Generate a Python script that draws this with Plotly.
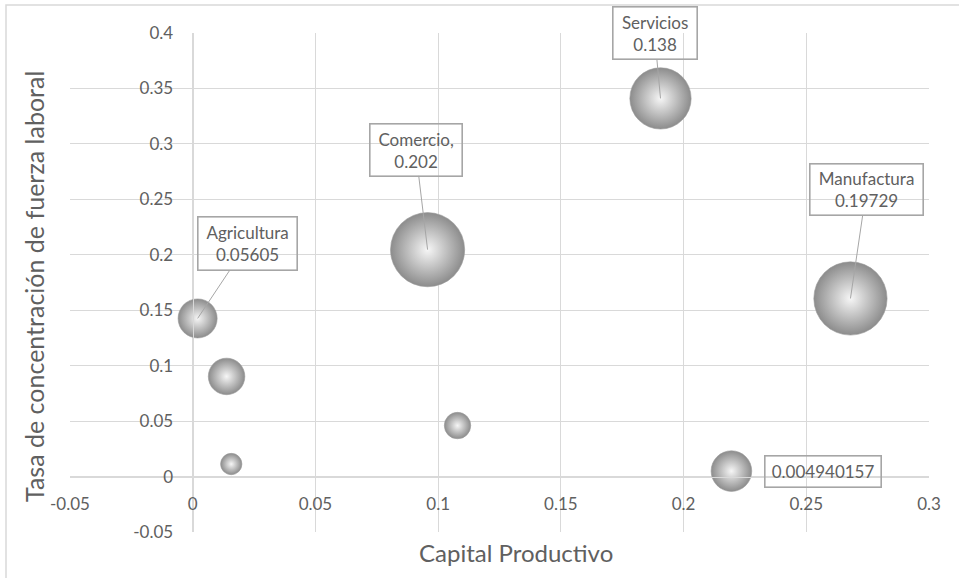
import plotly.graph_objects as go

# Sector bubbles: productive capital (x), labour concentration rate (y), bubble weight (size)
sector = ["Agricultura", "", "", "Comercio", "", "Servicios", "Manufactura", ""]
capital = [0.0020, 0.0138, 0.0157, 0.0957, 0.1079, 0.1906, 0.2680, 0.2195]
tasa = [0.1426, 0.0903, 0.0113, 0.2046, 0.0460, 0.3410, 0.1606, 0.004940157]
peso = [0.05605, 0.0490, 0.0167, 0.202, 0.0256, 0.138, 0.19729, 0.0606]

x_ticks = [-0.05, 0, 0.05, 0.1, 0.15, 0.2, 0.25, 0.3]
x_ticktext = ["-0.05", "0", "0.05", "0.1", "0.15", "0.2", "0.25", "0.3"]
y_ticks = [-0.05, 0, 0.05, 0.1, 0.15, 0.2, 0.25, 0.3, 0.35, 0.4]
y_ticktext = ["-0.05", "0", "0.05", "0.1", "0.15", "0.2", "0.25", "0.3", "0.35", "0.4"]

x_range = [-0.05, 0.3]
y_range = [-0.05, 0.4]

W, H = 959, 578
ML, MR, MT, MB = 70, 30, 33, 46
PW, PH = W - ML - MR, H - MT - MB

TEXT = "#606060"
GRID = "#d9d9d9"
BOX = "#a6a6a6"
FONT = "Lato, Carlito, Calibri, sans-serif"


def px_x(p):
    return (p - ML) / PW


def px_y(p):
    return (H - MB - p) / PH


fig = go.Figure()
fig.add_trace(go.Scatter(
    x=capital,
    y=tasa,
    mode="markers",
    marker=dict(
        size=peso,
        sizemode="area",
        sizeref=2 / 165 ** 2,
        color="#8c8c8c",
        gradient=dict(type="radial", color="#f6f6f6"),
        line=dict(width=0.6, color="#9a9a9a"),
        opacity=1,
    ),
    hoverinfo="skip",
    showlegend=False,
))

# Data callouts: (point index, text kind, offset x, offset y, box width, box height, leader)
callouts = [
    (0, "size", 50, -75, 98, 52, True),
    (3, "size_comma", -12, -100, 91, 51, True),
    (5, "size", -6, -65, 83, 51, True),
    (6, "size", 16, -109, 112, 50, True),
    (7, "y", 92, 0, 115, 30, False),
]

annotations = []
for i, kind, ax, ay, bw, bh, leader in callouts:
    if kind == "size":
        txt = f"{sector[i]}<br>{peso[i]}"
    elif kind == "size_comma":
        txt = f"{sector[i]},<br>{peso[i]}"
    else:
        txt = f"{tasa[i]}"
    annotations.append(dict(
        x=capital[i], y=tasa[i], xref="x", yref="y",
        text=txt, showarrow=True, arrowhead=0, arrowwidth=1,
        arrowcolor=BOX if leader else "rgba(0,0,0,0)",
        standoff=0, ax=ax, ay=ay,
        width=bw, height=bh, borderpad=0,
        bordercolor=BOX, borderwidth=1.6, bgcolor="rgba(0,0,0,0)",
        font=dict(family=FONT, size=17, color=TEXT),
        align="center",
    ))

annotations.append(dict(
    x=px_x(516), y=px_y(552), xref="paper", yref="paper",
    text="Capital Productivo", showarrow=False,
    font=dict(family=FONT, size=24, color=TEXT),
    xanchor="center", yanchor="middle",
))
annotations.append(dict(
    x=px_x(34), y=px_y(287), xref="paper", yref="paper",
    text="Tasa de concentración de fuerza laboral", showarrow=False,
    textangle=-90,
    font=dict(family=FONT, size=25, color=TEXT),
    xanchor="center", yanchor="middle",
))

fig.update_layout(
    width=W, height=H,
    margin=dict(l=ML, r=MR, t=MT, b=MB, pad=0),
    paper_bgcolor="white", plot_bgcolor="white",
    font=dict(family=FONT, color=TEXT, size=17),
    xaxis=dict(
        range=x_range, tickvals=x_ticks, ticktext=x_ticktext,
        showgrid=True, gridcolor=GRID, gridwidth=1.3,
        zeroline=False, showline=True, linecolor=GRID, linewidth=1.3,
        anchor="free", position=(0 - y_range[0]) / (y_range[1] - y_range[0]),
        ticks="", ticklabelstandoff=12,
        tickfont=dict(family=FONT, size=17, color=TEXT),
    ),
    yaxis=dict(
        range=y_range, tickvals=y_ticks, ticktext=y_ticktext,
        showgrid=True, gridcolor=GRID, gridwidth=1.3,
        zeroline=False, showline=True, linecolor=GRID, linewidth=1.3,
        anchor="free", position=(0 - x_range[0]) / (x_range[1] - x_range[0]),
        ticks="", ticklabelstandoff=16,
        tickfont=dict(family=FONT, size=17, color=TEXT),
    ),
    annotations=annotations,
    shapes=[dict(
        type="rect", xref="paper", yref="paper",
        x0=px_x(6), x1=px_x(W + 20), y0=px_y(H + 20), y1=px_y(5),
        line=dict(color=GRID, width=1.5), fillcolor="rgba(0,0,0,0)",
        layer="below",
    )],
)

fig.write_html("out.html")
